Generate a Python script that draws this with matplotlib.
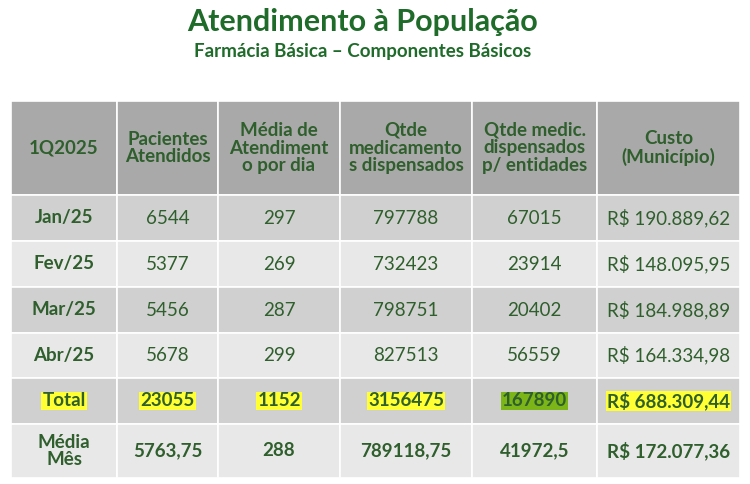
import matplotlib
matplotlib.use("Agg")
import matplotlib.pyplot as plt
from matplotlib.patches import Rectangle

title = "Atendimento à População"
subtitle = "Farmácia Básica – Componentes Básicos"
headers = ["1Q2025", "Pacientes\nAtendidos", "Média de\nAtendiment\no por dia",
           "Qtde\nmedicamento\ns dispensados", "Qtde medic.\ndispensados\np/ entidades", "Custo\n(Município)"]
months = ["Jan/25", "Fev/25", "Mar/25", "Abr/25"]
pacientes = ["6544", "5377", "5456", "5678"]
media_dia = ["297", "269", "287", "299"]
qtde_med = ["797788", "732423", "798751", "827513"]
qtde_ent = ["67015", "23914", "20402", "56559"]
custo = ["R$ 190.889,62", "R$ 148.095,95", "R$ 184.988,89", "R$ 164.334,98"]
total = ["Total", "23055", "1152", "3156475", "167890", "R$ 688.309,44"]
media_mes = ["Média\nMês", "5763,75", "288", "789118,75", "41972,5", "R$ 172.077,36"]

W, H = 750, 484
fig = plt.figure(figsize=(W/100, H/100), dpi=100)
ax = fig.add_axes([0, 0, 1, 1])
ax.set_xlim(0, W); ax.set_ylim(H, 0); ax.axis("off")
FONT = "Lato"
green = "#2f5f2c"

ax.text(363, 22, title, ha="center", va="center", fontsize=22, fontweight="bold", color="#1f6b2a", family=FONT)
ax.text(363, 51, subtitle, ha="center", va="center", fontsize=13.5, fontweight="bold", color="#1f6b2a", family=FONT)

xs = [11, 117, 218, 340, 472, 597, 740]
ys = [101, 195, 241, 287, 333, 378, 424, 478]
rows = [headers] + [[m, a, b, c, d, e] for m, a, b, c, d, e in zip(months, pacientes, media_dia, qtde_med, qtde_ent, custo)] + [total, media_mes]
bgs = ["#a9a9a9", "#d0d0d0", "#e8e8e8", "#d0d0d0", "#e8e8e8", "#d0d0d0", "#e8e8e8"]

for r, row in enumerate(rows):
    y0, y1 = ys[r], ys[r+1]
    for c, txt in enumerate(row):
        x0, x1 = xs[c], xs[c+1]
        ax.add_patch(Rectangle((x0, y0), x1-x0, y1-y0, facecolor=bgs[r], edgecolor="white", lw=1.2))
        bold = r == 0 or c == 0 or r >= 5
        kw = dict(ha="center", va="center", fontsize=13.5, color=green, family=FONT,
                  fontweight="bold" if bold else "normal", linespacing=1.05)
        if r == 5:
            kw["bbox"] = dict(boxstyle="square,pad=0.05", fc="#7cb518" if c == 4 else "#ffff33", ec="none")
        ax.text((x0+x1)/2, (y0+y1)/2, txt, **kw)

fig.savefig("out.png", dpi=100, facecolor="white")
